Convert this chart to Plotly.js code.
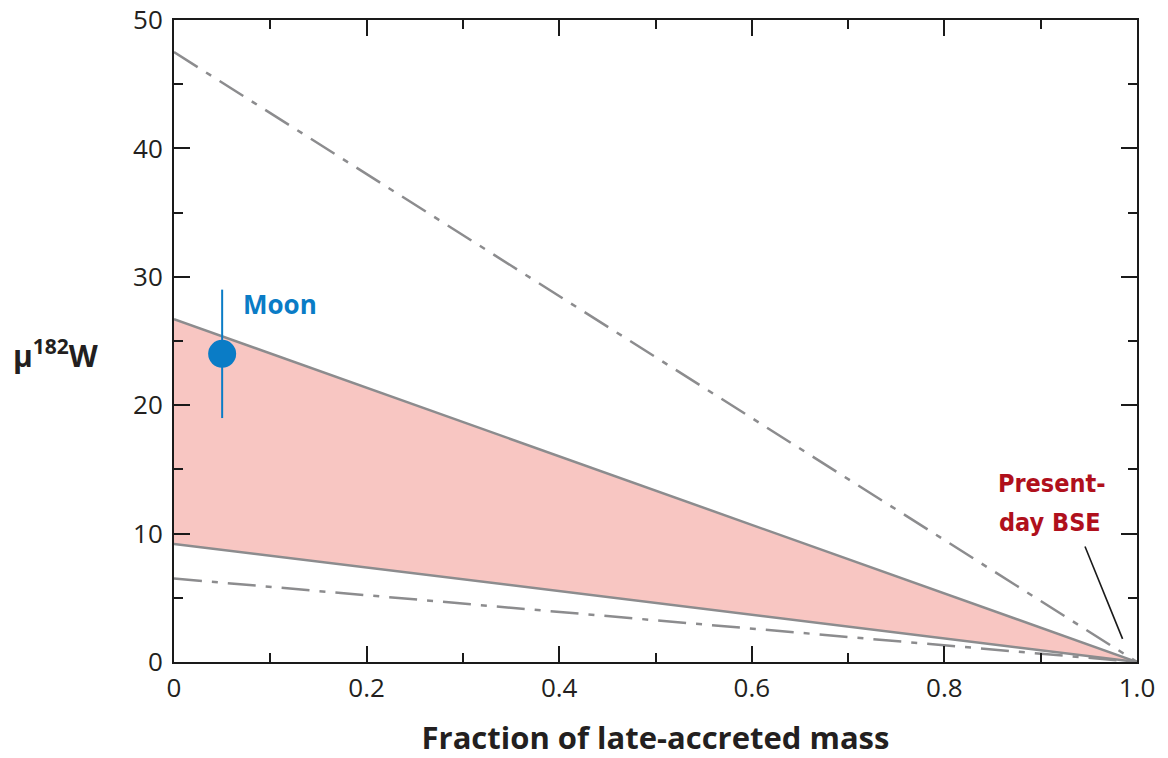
<!DOCTYPE html>
<html>
<head>
<meta charset="utf-8">
<script src="https://cdn.plot.ly/plotly-3.0.1.min.js"></script>
<style>html,body{margin:0;padding:0;background:#fff;}#chart{width:1168px;height:758px;}</style>
</head>
<body>
<div id="chart"></div>
<script>
// Data
const fracX = [0, 1];
const upperDashDot = [47.5, 0];
const bandUpper = [26.7, 0];
const bandLower = [9.2, 0];
const lowerDashDot = [6.5, 0];
const moonX = [0.05];
const moonY = [24];
const moonErr = [5];
const bseLeaderX = [0.946, 0.985];
const bseLeaderY = [9.0, 1.8];
const xTickVals = [0, 0.2, 0.4, 0.6, 0.8, 1.0];
const xTickText = ['0', '0.2', '0.4', '0.6', '0.8', '1.0'];
const yTickVals = [0, 10, 20, 30, 40, 50];

const gray = '#8c8c8e';
const dashdot = '28px,10px,6px,10px';
const font = '"Open Sans", "Noto Sans", sans-serif';
const narrow = '"Liberation Sans Narrow", "DejaVu Sans Condensed", sans-serif';

const traces = [
  {x: fracX, y: bandLower, mode: 'lines', line: {color: gray, width: 2.5}, hoverinfo: 'skip'},
  {x: fracX, y: bandUpper, mode: 'lines', fill: 'tonexty', fillcolor: '#f8c6c2', line: {color: gray, width: 2.5}, hoverinfo: 'skip'},
  {x: fracX, y: upperDashDot, mode: 'lines', line: {color: gray, width: 2.5, dash: dashdot}},
  {x: fracX, y: lowerDashDot, mode: 'lines', line: {color: gray, width: 2.5, dash: dashdot}},
  {x: bseLeaderX, y: bseLeaderY, mode: 'lines', line: {color: '#1a1a1a', width: 1.6}},
  {x: moonX, y: moonY, mode: 'markers',
   marker: {color: '#0a7cc6', size: 28},
   error_y: {type: 'data', array: moonErr, visible: true, color: '#0a7cc6', thickness: 2, width: 0}}
];

const axisCommon = {
  showline: true, linecolor: '#1a1a1a', linewidth: 2, mirror: 'ticks',
  ticks: 'inside', ticklen: 16, tickwidth: 2, tickcolor: '#1a1a1a',
  showgrid: false, zeroline: false,
  tickfont: {family: font, size: 26, color: '#231f20'}
};

const layout = {
  width: 1168, height: 758,
  margin: {l: 174, r: 31, t: 20, b: 96},
  paper_bgcolor: '#fff', plot_bgcolor: '#fff',
  showlegend: false,
  xaxis: Object.assign({}, axisCommon, {
    range: [0, 1], tickvals: xTickVals, ticktext: xTickText,
    minor: {tickvals: [0.1, 0.3, 0.5, 0.7, 0.9], ticklen: 9, tickwidth: 2, tickcolor: '#1a1a1a', ticks: 'inside'},
    ticklabelstandoff: 2,
    title: {text: 'Fraction of late-accreted mass', font: {family: font, size: 31, color: '#231f20', weight: 'bold'}, standoff: 26}
  }),
  yaxis: Object.assign({}, axisCommon, {
    range: [0, 50], tickvals: yTickVals,
    minor: {tickvals: [5, 15, 25, 35, 45], ticklen: 9, tickwidth: 2, tickcolor: '#1a1a1a', ticks: 'inside'},
    ticklabelstandoff: 4
  }),
  annotations: [
    {xref: 'paper', yref: 'y', x: -0.169, y: 24, xanchor: 'left', yanchor: 'middle', showarrow: false,
     text: '<b>μ<sup>182</sup>W</b>', font: {family: font, size: 30, color: '#231f20'}},
    {xref: 'x', yref: 'y', x: 0.07, y: 27.9, xanchor: 'left', yanchor: 'middle', showarrow: false,
     text: '<b>Moon</b>', font: {family: font, size: 26, color: '#0a7cc6'}},
    {xref: 'x', yref: 'y', x: 0.912, y: 13.9, xanchor: 'center', yanchor: 'middle', showarrow: false,
     text: '<b>Present-</b>', font: {family: narrow, size: 25, color: '#b0101c'}},
    {xref: 'x', yref: 'y', x: 0.91, y: 10.9, xanchor: 'center', yanchor: 'middle', showarrow: false,
     text: '<b>day BSE</b>', font: {family: narrow, size: 25, color: '#b0101c'}}
  ]
};

Plotly.newPlot('chart', traces, layout, {displayModeBar: false, staticPlot: true});
</script>
</body>
</html>
